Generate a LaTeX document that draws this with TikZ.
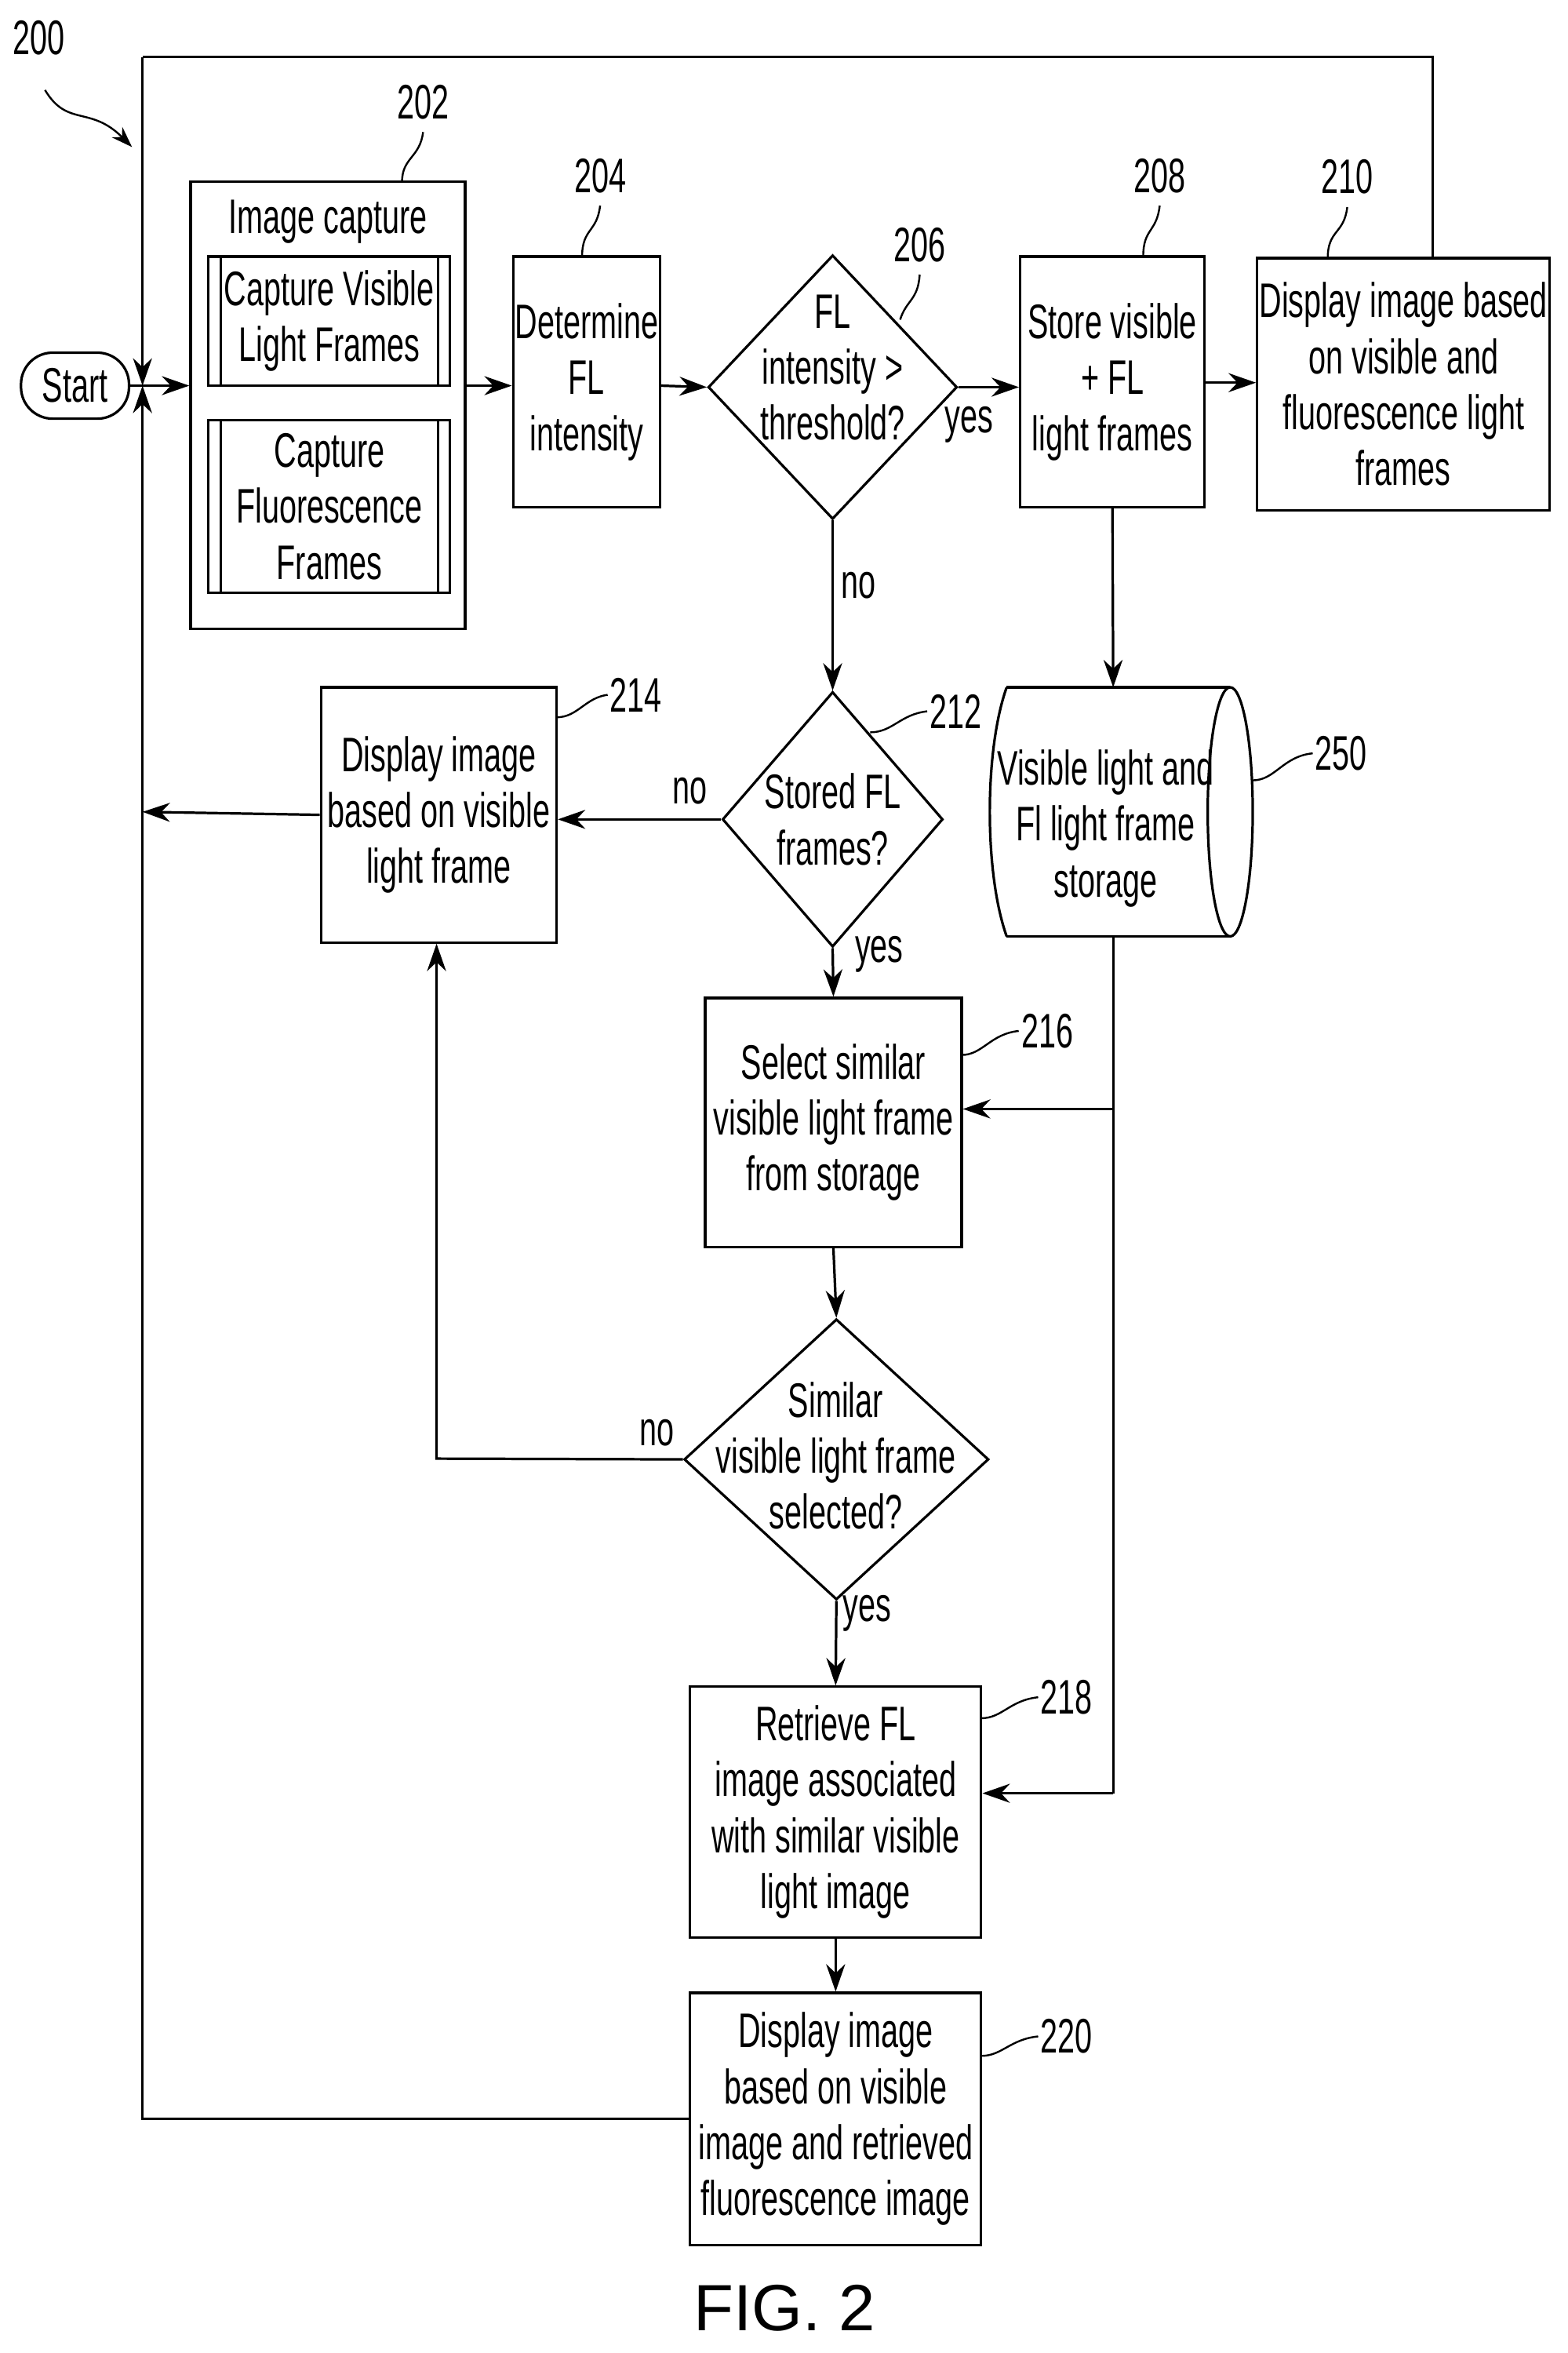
\documentclass[tikz,border=0pt]{standalone}
\usepackage{fontspec}
\setmainfont{Liberation Sans}[FakeStretch=0.64]
\newfontfamily\figfont{Liberation Sans}
\usetikzlibrary{arrows.meta,shapes.geometric}
\begin{document}
\begin{tikzpicture}[x=0.05cm,y=-0.05cm,line width=2.4pt,
  txt/.style={font=\fontsize{46}{53}\selectfont,align=center},
  box/.style={draw,txt,inner sep=0pt},
  dia/.style={draw,diamond,txt,inner sep=0pt},
  arr/.style={-{Stealth[length=26pt,width=18pt]}},
  lbl/.style={font=\fontsize{46}{53}\selectfont},
  lead/.style={line width=1.8pt}]
\useasboundingbox (0,0) rectangle (1045,1568);
% nodes
\node[draw,rounded corners=30pt,txt,minimum width=72*0.05cm,minimum height=44*0.05cm,inner sep=0pt] (start) at (50,257) {Start};
\node[box,minimum width=183*0.05cm,minimum height=298*0.05cm] (b202) at (218.5,270) {};
\node[txt] (ic) at (218.5,148) {Image capture};
\node[box,minimum width=161*0.05cm,minimum height=86*0.05cm] (cv) at (219.5,214) {Capture Visible\\Light Frames};
\node[box,minimum width=161*0.05cm,minimum height=115*0.05cm] (cf) at (219.5,337.5) {Capture\\Fluorescence\\Frames};
\draw (147,171)--(147,257) (292,171)--(292,257) (147,280)--(147,395) (292,280)--(292,395);
\node[box,minimum width=98*0.05cm,minimum height=167*0.05cm] (b204) at (391,254.5) {Determine\\FL\\intensity};
\node[dia,minimum width=166*0.05cm,minimum height=176*0.05cm,aspect=0.94] (d206) at (555,258) {};
\node[txt] at (555,245) {FL\\intensity >\\threshold?};
\node[box,minimum width=123*0.05cm,minimum height=167*0.05cm] (b208) at (741.5,254.5) {Store visible\\+ FL\\light frames};
\node[box,minimum width=195*0.05cm,minimum height=168*0.05cm] (b210) at (935.5,256) {Display image based\\on visible and\\fluorescence light\\frames};
\node[dia,minimum width=147*0.05cm,minimum height=170*0.05cm,aspect=0.86] (d212) at (555,546) {};
\node[txt] at (555,546) {Stored FL\\frames?};
\node[box,minimum width=157*0.05cm,minimum height=170*0.05cm] (b214) at (292.5,543) {Display image\\based on visible\\light frame};
% cylinder
\draw (671,458)--(820,458) (671,624)--(820,624);
\draw (671,458) .. controls (656,500) and (656,582) .. (671,624);
\draw (820,541) ellipse [x radius=15, y radius=83];
\node[txt] (c250) at (737,552) {Visible light and\\Fl light frame\\storage};
\coordinate (cb) at (742,624);
\node[box,minimum width=171*0.05cm,minimum height=166*0.05cm] (b216) at (555.5,748) {Select similar\\visible light frame\\from storage};
\node[dia,minimum width=203*0.05cm,minimum height=187*0.05cm,aspect=1.08] (d3) at (557.5,972.5) {};
\node[txt] at (557,970) {Similar\\visible light frame\\selected?};
\node[box,minimum width=194*0.05cm,minimum height=167*0.05cm] (b218) at (557,1207.5) {Retrieve FL\\image associated\\with similar visible\\light image};
\node[box,minimum width=194*0.05cm,minimum height=168*0.05cm] (b220) at (557,1412) {Display image\\based on visible\\image and retrieved\\fluorescence image};
\node[font=\figfont\fontsize{62}{70}\selectfont] at (523,1538) {FIG. 2};
% coordinates
\coordinate (j) at (95,257);
\coordinate (tl) at (95,38); \coordinate (tr) at (955,38);
\coordinate (bl) at (95,1412);
% connectors
\draw (start.east)--(j);
\draw[arr] (j)--(b202.west |- j);
\draw[arr] (b202.east |- j)--(b204.west |- j);
\draw[arr] (b204.east |- j)--(d206.west);
\draw[arr] (d206.east)--(b208.west |- d206.east);
\draw[arr] (b208.east |- 0,255)--(b210.west |- 0,255);
\draw[arr] (b208.south)--(742,458);
\draw (955,172)--(tr)--(tl);
\draw[arr] (tl)--(j);
\draw[arr] (b220.west)--(bl)--(j);
\draw[arr] (b214.west)--(95,541);
\draw[arr] (d206.south)--(d212.north);
\draw[arr] (d212.west)--(b214.east |- d212.west);
\draw[arr] (d212.south)--(b216.north);
\draw (cb)--(742,1195);
\draw[arr] (742,739)--(b216.east |- 0,739);
\draw[arr] (742,1195)--(b218.east |- 0,1195);
\draw[arr] (b216.south)--(d3.north);
\draw[arr] (d3.west)--(291,972)--(b214.south -| 291,0);
\draw[arr] (d3.south)--(b218.north);
\draw[arr] (b218.south)--(b220.north);
% edge labels
\node[lbl] at (646,283) {yes};
\node[lbl] at (572,390) {no};
\node[lbl] at (460,527) {no};
\node[lbl] at (586,636) {yes};
\node[lbl] at (438,955) {no};
\node[lbl] at (578,1075) {yes};
% reference labels
\node[lbl] at (26,25) {200};
\draw[lead,-{Stealth[length=20pt,width=14pt]}] (30,60) .. controls (45,85) and (60,70) .. (88,98);
\node[lbl] at (282,68) {202}; \draw[lead] (282,88) .. controls (280,105) and (268,105) .. (268,121);
\node[lbl] at (400,117) {204}; \draw[lead] (400,137) .. controls (398,155) and (388,152) .. (388,171);
\node[lbl] at (613,163) {206}; \draw[lead] (613,183) .. controls (612,200) and (604,200) .. (600,213);
\node[lbl] at (773,117) {208}; \draw[lead] (773,137) .. controls (771,155) and (762,152) .. (762,171);
\node[lbl] at (898,118) {210}; \draw[lead] (898,138) .. controls (896,156) and (885,153) .. (885,172);
\node[lbl] at (424,463) {214}; \draw[lead] (405,463) .. controls (390,465) and (385,478) .. (371,478);
\node[lbl] at (637,474) {212}; \draw[lead] (618,474) .. controls (600,476) and (595,488) .. (580,488);
\node[lbl] at (894,502) {250}; \draw[lead] (875,502) .. controls (855,504) and (850,520) .. (835,520);
\node[lbl] at (698,687) {216}; \draw[lead] (679,687) .. controls (660,689) and (655,703) .. (641,703);
\node[lbl] at (711,1131) {218}; \draw[lead] (692,1131) .. controls (673,1133) and (668,1145) .. (654,1145);
\node[lbl] at (711,1357) {220}; \draw[lead] (692,1357) .. controls (673,1359) and (668,1370) .. (654,1370);
\end{tikzpicture}
\end{document}
